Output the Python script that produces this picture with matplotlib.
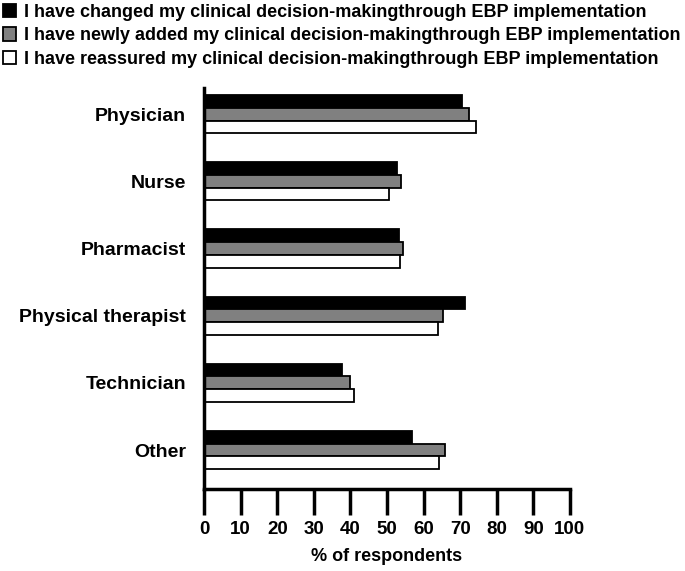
import matplotlib
matplotlib.use("Agg")
import matplotlib.pyplot as plt
import numpy as np

plt.rcParams['font.family'] = ['Liberation Sans', 'DejaVu Sans']
plt.rcParams['font.weight'] = 'bold'

categories = ["Physician", "Nurse", "Pharmacist", "Physical therapist", "Technician", "Other"]
series_names = [
    "I have changed my clinical decision-makingthrough EBP implementation",
    "I have newly added my clinical decision-makingthrough EBP implementation",
    "I have reassured my clinical decision-makingthrough EBP implementation",
]
changed = [70.4, 52.7, 53.2, 71.4, 37.8, 56.9]
added = [72.5, 53.8, 54.5, 65.2, 39.9, 65.8]
reassured = [74.3, 50.6, 53.6, 63.8, 41.1, 64.3]
colors = ["#000000", "#808080", "#ffffff"]
xticks = [0, 10, 20, 30, 40, 50, 60, 70, 80, 90, 100]

fig = plt.figure(figsize=(6.85, 5.71), dpi=100)
ax = fig.add_axes([0.298, 0.1436, 0.534, 0.7024])

y = np.arange(len(categories))
h = 0.19
for i, (vals, c, name) in enumerate(zip([changed, added, reassured], colors, series_names)):
    ax.barh(y + (i - 1) * h, vals, height=h, color=c, edgecolor="black", linewidth=1.3, label=name)

ax.set_ylim(len(categories) - 1 + 0.58, -0.39)
ax.set_xlim(0, 100)
ax.set_yticks(y)
ax.set_yticklabels(categories, fontsize=14, fontweight='bold')
ax.tick_params(axis='y', length=0, pad=13)
ax.set_xticks(xticks)
ax.set_xticklabels([str(t) for t in xticks], fontsize=13.5, fontweight='bold')
ax.tick_params(axis='x', length=19, width=2.5, direction='out', pad=4)
for s in ['top', 'right']:
    ax.spines[s].set_visible(False)
for s in ['left', 'bottom']:
    ax.spines[s].set_linewidth(2.5)
ax.set_xlabel("% of respondents", fontsize=13, fontweight='bold', labelpad=7)

fig.legend(loc='upper left', bbox_to_anchor=(-0.012, 1.012), frameon=False,
           handlelength=0.75, handleheight=0.75, handletextpad=0.45, labelspacing=0.35,
           borderaxespad=0.2, prop={'weight': 'bold', 'size': 13})

fig.savefig("out.png", dpi=100)
